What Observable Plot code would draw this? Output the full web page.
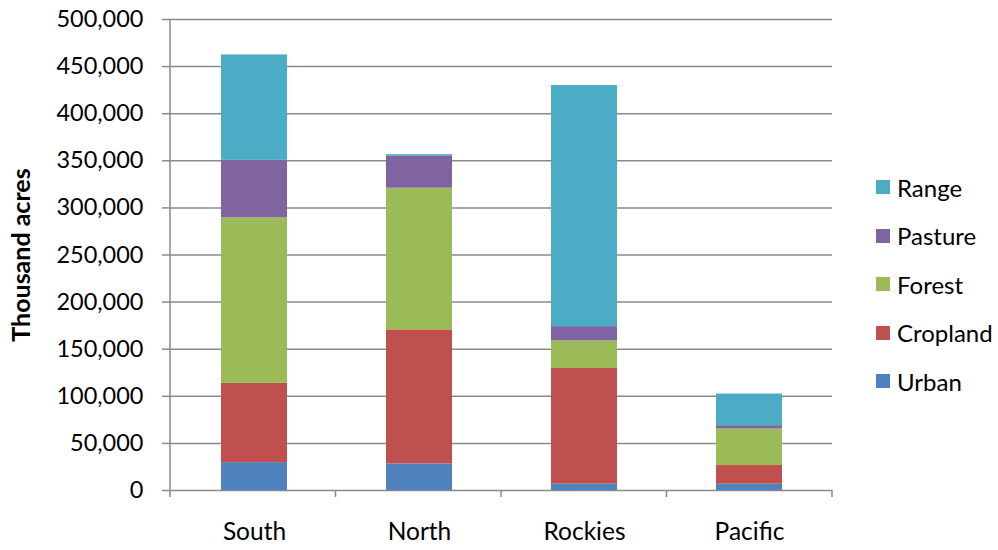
<!DOCTYPE html>
<html>
<head>
<meta charset="utf-8">
<script src="https://cdn.jsdelivr.net/npm/d3@7"></script>
<script src="https://cdn.jsdelivr.net/npm/@observablehq/plot@0.6"></script>
<style>
  html, body { margin: 0; padding: 0; background: #fff; }
  #wrap { position: relative; width: 998px; height: 550px; font-family: Lato, "Open Sans", sans-serif; }
  #legend { position: absolute; left: 876px; top: 163px; }
  .item { display: flex; align-items: center; height: 48.5px; font-size: 24px; color: #000; }
  .sw { width: 14px; height: 14px; margin-right: 7px; }
</style>
</head>
<body>
<div id="wrap"><div id="legend"></div></div>
<script>
// Land use by region, thousand acres
const regions = ["South", "North", "Rockies", "Pacific"];
const series = ["Urban", "Cropland", "Forest", "Pasture", "Range"];
const colors = ["#4F81BD", "#C0504D", "#9BBB59", "#8064A2", "#4BACC6"];
const urban    = [29600, 28200, 6700, 6700];
const cropland = [84100, 142300, 122800, 19800];
const forest   = [175700, 150400, 29300, 38800];
const pasture  = [61100, 33800, 15200, 3500];
const range    = [111900, 1800, 255900, 33600];
const yTicks = [0, 50000, 100000, 150000, 200000, 250000, 300000, 350000, 400000, 450000, 500000];

const valuesBySeries = [urban, cropland, forest, pasture, range];
const rows = [];
series.forEach((s, i) => regions.forEach((r, j) => rows.push({region: r, type: s, value: valuesBySeries[i][j]})));

const gray = "#8a8a8a";

// axis line on the left and boundary ticks between categories
function frameTicks(index, scales, values, dims) {
  const g = d3.create("svg:g");
  const y = scales.y;
  const left = dims.marginLeft, right = dims.width - dims.marginRight;
  const y0 = y(0);
  g.append("line").attr("x1", left).attr("x2", left).attr("y1", y(500000)).attr("y2", y0 + 7)
    .attr("stroke", gray).attr("stroke-width", 1.5);
  const n = regions.length;
  for (let i = 1; i <= n; i++) {
    const px = left + i * (right - left) / n;
    g.append("line").attr("x1", px).attr("x2", px).attr("y1", y0).attr("y2", y0 + 7)
      .attr("stroke", gray).attr("stroke-width", 1.5);
  }
  return g.node();
}

const chart = Plot.plot({
  width: 998,
  height: 550,
  marginTop: 19,
  marginBottom: 60,
  marginLeft: 170,
  marginRight: 166,
  style: {fontFamily: "Lato, 'Open Sans', sans-serif", fontSize: "23px", color: "#000", background: "#fff"},
  x: {domain: regions, paddingInner: 0.6, paddingOuter: 0.3, label: null},
  y: {domain: [0, 500000]},
  color: {domain: series, range: colors},
  marks: [
    Plot.gridY(yTicks, {stroke: gray, strokeOpacity: 1, strokeWidth: 1.5}),
    Plot.axisY(yTicks, {tickSize: 8, tickPadding: 19, stroke: gray, strokeWidth: 1.5, strokeOpacity: 1,
      tickFormat: d3.format(","), label: null, fontSize: 23.5}),
    Plot.axisY({ticks: [], label: "Thousand acres", labelAnchor: "center", labelArrow: "none",
      labelOffset: 158, fontWeight: "bold", fontSize: 25}),
    Plot.axisX({tickSize: 0, tickPadding: 32, label: null, fontSize: 24.5}),
    Plot.barY(rows, {x: "region", y: "value", fill: "type", order: series}),
    frameTicks
  ]
});

document.getElementById("wrap").prepend(chart);

// legend, top entry is the top of the stack
const legend = d3.select("#legend");
series.slice().reverse().forEach(s => {
  const it = legend.append("div").attr("class", "item");
  it.append("div").attr("class", "sw").style("background", colors[series.indexOf(s)]);
  it.append("span").text(s);
});
</script>
</body>
</html>
